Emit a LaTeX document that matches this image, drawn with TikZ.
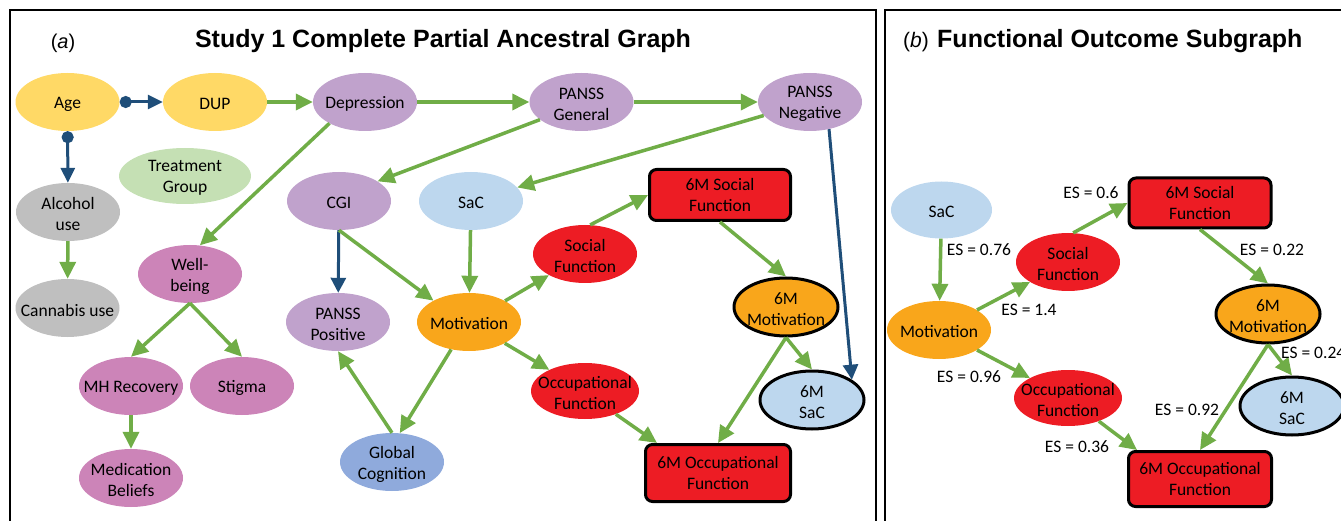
\documentclass[tikz,border=0pt]{standalone}
\usepackage{fontspec}
\setmainfont{Carlito}
\newfontfamily\headfont{Liberation Sans}
\usetikzlibrary{arrows.meta,shapes.geometric}
\definecolor{ageyellow}{HTML}{FFD966}
\definecolor{lilac}{HTML}{C0A2CC}
\definecolor{mauve}{HTML}{CC84B8}
\definecolor{softgray}{HTML}{BFBFBF}
\definecolor{palegreen}{HTML}{C5E0B4}
\definecolor{skyblue}{HTML}{BDD7EE}
\definecolor{cogblue}{HTML}{8FAADC}
\definecolor{motorange}{HTML}{F9A61B}
\definecolor{fnred}{HTML}{ED1C24}
\definecolor{edgegreen}{HTML}{70AD47}
\definecolor{edgeblue}{HTML}{1F4E79}
\newcommand{\zw}[1]{\makebox[0pt]{\raisebox{-2pt}[\height][\depth]{#1}}}

\begin{document}
\begin{tikzpicture}[x=1pt,y=-1pt,
    var/.style={ellipse,inner sep=0pt,minimum width=104pt,minimum height=58pt,
        align=center,font=\fontsize{17.5}{21}\selectfont},
    outcome/.style={rectangle,rounded corners=7pt,draw=black,line width=3pt,fill=fnred,
        minimum width=141pt,minimum height=51pt,inner sep=2pt,align=center,
        font=\fontsize{17.5}{21}\selectfont},
    ring/.style={draw=black,line width=3pt},
    grn/.style={draw=edgegreen,line width=3.5pt,arrows={-Triangle[length=17pt,width=16pt]}},
    blu/.style={draw=edgeblue,line width=3pt,arrows={-Triangle[length=15pt,width=15pt]}},
    circ/.style={blu,arrows={Circle[length=12pt]-Triangle[length=15pt,width=14pt]}},
    es/.style={inner sep=0pt,font=\fontsize{17.5}{21}\selectfont},
    frame/.style={draw=black,line width=1.5pt}
]
    \useasboundingbox (0,0) rectangle (1341,521);
    \clip (0,0) rectangle (1341,521);
    \draw[frame] (10,530) -- (10,10) -- (876,10) -- (876,530);
    \draw[frame] (885,530) -- (885,10) -- (1350,10);

    \node[anchor=base,inner sep=0pt,font=\headfont\fontsize{20}{24}\selectfont] (taga) at (63,49) {(\textit{a})};
    \node[anchor=base,inner sep=0pt,font=\headfont\fontsize{25}{30}\selectfont\bfseries] (ttla) at (443,48) {Study 1 Complete Partial Ancestral Graph};
    \node[anchor=base,inner sep=0pt,font=\headfont\fontsize{21}{24}\selectfont] (tagb) at (916,48) {(\textit{b})};
    \node[anchor=base west,inner sep=0pt,font=\headfont\fontsize{25}{30}\selectfont\bfseries] (ttlb) at (937,48) {Functional Outcome Subgraph};

    \node[var,fill=ageyellow] (age) at (67.5,102) {\zw{Age}};
    \node[var,fill=ageyellow] (dup) at (215,102) {\zw{DUP}};
    \node[var,fill=lilac] (dep) at (365,102) {\zw{Depression}};
    \node[var,fill=lilac] (pgen) at (581.5,102) {\zw{PANSS}\\\zw{General}};
    \node[var,fill=lilac] (pneg) at (810,102) {\zw{PANSS}\\\zw{Negative}};
    \node[var,fill=palegreen,minimum width=132pt,minimum height=56pt] (trt) at (185,176) {\zw{Treatment}\\\zw{Group}};
    \node[var,fill=softgray] (alc) at (68,212) {\zw{Alcohol}\\\zw{use}};
    \node[var,fill=lilac] (cgi) at (339,201) {\zw{CGI}};
    \node[var,fill=skyblue] (sac) at (471,201) {\zw{SaC}};
    \node[outcome] (msoc) at (720,195) {6M Social\\Function};
    \node[var,fill=fnred] (soc) at (585,254) {\zw{Social}\\\zw{Function}};
    \node[var,fill=softgray] (can) at (67.5,308) {\zw{Cannabis use}};
    \node[var,fill=mauve] (wb) at (190,274) {\zw{Well-}\\\zw{being}};
    \node[var,fill=lilac] (ppos) at (338,322) {\zw{PANSS}\\\zw{Positive}};
    \node[var,fill=motorange] (mot) at (469,322) {\zw{Motivation}};
    \node[var,fill=motorange,ring] (mmot) at (786,307) {\zw{6M}\\\zw{Motivation}};
    \node[var,fill=mauve] (mh) at (131,386) {\zw{MH Recovery}};
    \node[var,fill=mauve] (stig) at (242,386) {\zw{Stigma}};
    \node[var,fill=fnred,minimum width=108pt,minimum height=56pt] (occ) at (585,391) {\zw{Occupational}\\\zw{Function}};
    \node[var,fill=skyblue,ring] (msac) at (812,400) {\zw{6M}\\\zw{SaC}};
    \node[var,fill=cogblue] (gc) at (392,462) {\zw{Global}\\\zw{Cognition}};
    \node[outcome,minimum width=145pt,minimum height=57pt] (mocc) at (718,473) {6M Occupational\\Function};
    \node[var,fill=mauve] (med) at (131,478) {\zw{Medication}\\\zw{Beliefs}};

    \draw[circ] (age) -- (dup);
    \draw[circ] (age) -- (alc);
    \draw[grn] (dup) -- (dep);
    \draw[grn] (dep) -- (pgen);
    \draw[grn] (pgen) -- (pneg);
    \draw[grn] (dep.211) -- (wb.71);
    \draw[grn] (pgen.203) -- (cgi.27);
    \draw[grn] (pneg) -- (sac);
    \draw[blu] (pneg.-55) -- (msac.27);
    \draw[blu] (cgi) -- (ppos);
    \draw[grn] (cgi.south) -- (mot.149);
    \draw[grn] (sac) -- (mot);
    \draw[grn] (mot) -- (soc);
    \draw[grn] (soc.80) -- (msoc.west);
    \draw[grn] (msoc.south) -- (mmot.north);
    \draw[grn] (mot) -- (occ);
    \draw[grn] (mot.237) -- (gc.75);
    \draw[grn] (gc.north) -- (ppos.south);
    \draw[grn] (occ.-37) -- ([xshift=13pt]mocc.north west);
    \draw[grn] (mmot.south) -- (mocc.north);
    \draw[grn] (mmot.south) -- (msac.north);
    \draw[grn] (alc) -- (can);
    \draw[grn] (wb.south) -- (mh.north);
    \draw[grn] (wb.south) -- (stig.north);
    \draw[grn] (mh) -- (med);

    \node[var,fill=skyblue,minimum width=101pt,minimum height=57pt] (bsac) at (941.5,210) {\zw{SaC}};
    \node[outcome,minimum width=142pt,minimum height=50pt] (bmsoc) at (1200,203) {6M Social\\Function};
    \node[var,fill=fnred] (bsoc) at (1068,262) {\zw{Social}\\\zw{Function}};
    \node[var,fill=motorange] (bmot) at (939,330) {\zw{Motivation}};
    \node[var,fill=motorange,ring] (bmmot) at (1268,314) {\zw{6M}\\\zw{Motivation}};
    \node[var,fill=fnred,minimum width=108pt,minimum height=56pt] (bocc) at (1068,398) {\zw{Occupational}\\\zw{Function}};
    \node[var,fill=skyblue,ring] (bmsac) at (1292,406) {\zw{6M}\\\zw{SaC}};
    \node[outcome,minimum width=143pt,minimum height=55pt] (bmocc) at (1200,479) {6M Occupational\\Function};

    \draw[grn] (bsac) -- (bmot);
    \draw[grn] (bmot) -- (bsoc);
    \draw[grn] (bsoc.80) -- (bmsoc.west);
    \draw[grn] (bmsoc.south) -- (bmmot.north);
    \draw[grn] (bmot) -- (bocc);
    \draw[grn] (bocc.-37) -- ([xshift=10pt]bmocc.north west);
    \draw[grn] (bmmot.south) -- (bmocc.north);
    \draw[grn] (bmmot.south) -- (bmsac.north);

    \node[es] (es1) at (1091,193) {ES = 0.6};
    \node[es] (es2) at (979,250) {ES = 0.76};
    \node[es] (es3) at (1272,250) {ES = 0.22};
    \node[es] (es4) at (1029,310) {ES = 1.4};
    \node[es] (es5) at (969,377) {ES = 0.96};
    \node[es] (es6) at (1077,447) {ES = 0.36};
    \node[es] (es7) at (1187,410) {ES = 0.92};
    \node[es,anchor=west] (es8) at (1281,353) {ES = 0.24};
\end{tikzpicture}
\end{document}
